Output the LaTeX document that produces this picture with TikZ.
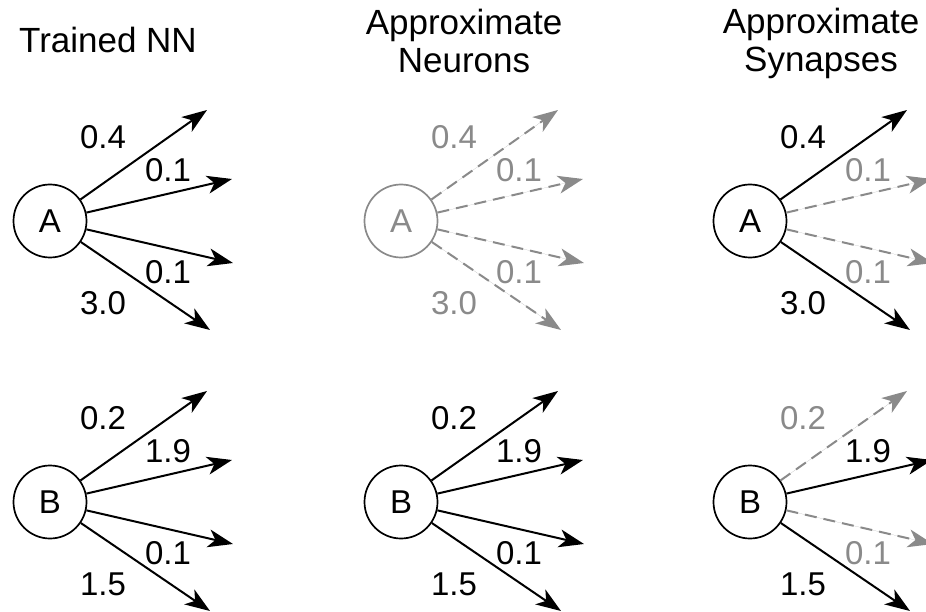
\documentclass[tikz,border=0pt]{standalone}
\usepackage{fontspec}
\setmainfont{Liberation Sans}
\usetikzlibrary{arrows.meta}
\definecolor{faded}{RGB}{138,138,138}
\tikzset{
  neuron/.style={circle,draw,line width=1.7pt,minimum size=73pt,inner sep=0pt,font=\fontsize{33}{36}\selectfont},
  off neuron/.style={neuron,draw=faded,text=faded},
  keep/.style={line width=2pt,-{Stealth[length=25pt,width=18pt,inset=7pt]}},
  cut/.style={keep,draw=faded,fill=faded,dash pattern=on 12pt off 7pt},
  weight/.style={font=\fontsize{33}{36}\selectfont,inner sep=0pt},
  keep-txt/.style={text=black},
  cut-txt/.style={text=faded},
  title/.style={font=\fontsize{35}{38}\selectfont,align=center}
}
% four outgoing synapses of neuron #1, weights #2-#5, kinds #6-#9
\newcommand\fan[9]{%
  \foreach \i/\dx/\dy/\lx/\ly/\w/\s in {1/157/-111/53/-84/#2/#6,2/182/-42/118/-51/#3/#7,
                                         3/183/42/118/51/#4/#8,4/160/109/53/82/#5/#9}{
    \coordinate (#1-\i) at ([shift={(\dx,\dy)}]#1.center);
    \draw[\s] (#1) -- (#1-\i);
    \node[weight,\s-txt] (#1-w\i) at ([shift={(\lx,\ly)}]#1.center) {\w};
  }}

\begin{document}
\begin{tikzpicture}[x=1pt,y=-1pt]
\useasboundingbox (0,0) rectangle (926,612);

\node[title] (t1) at (108,40) {Trained NN};
\node[title] (t2) at (464,41) {Approximate\\Neurons};
\node[title] (t3) at (821,43) {Approximate\\Synapses};

% trained network
\node[neuron] (A1) at (50,221) {A};
\node[neuron] (B1) at (50,502) {B};
\fan{A1}{0.4}{0.1}{0.1}{3.0}{keep}{keep}{keep}{keep}
\fan{B1}{0.2}{1.9}{0.1}{1.5}{keep}{keep}{keep}{keep}

% neuron A dropped
\node[off neuron] (A2) at (401,221) {A};
\node[neuron] (B2) at (401,502) {B};
\fan{A2}{0.4}{0.1}{0.1}{3.0}{cut}{cut}{cut}{cut}
\fan{B2}{0.2}{1.9}{0.1}{1.5}{keep}{keep}{keep}{keep}

% small weights dropped
\node[neuron] (A3) at (750,221) {A};
\node[neuron] (B3) at (750,502) {B};
\fan{A3}{0.4}{0.1}{0.1}{3.0}{keep}{cut}{cut}{keep}
\fan{B3}{0.2}{1.9}{0.1}{1.5}{cut}{keep}{cut}{keep}
\end{tikzpicture}
\end{document}
